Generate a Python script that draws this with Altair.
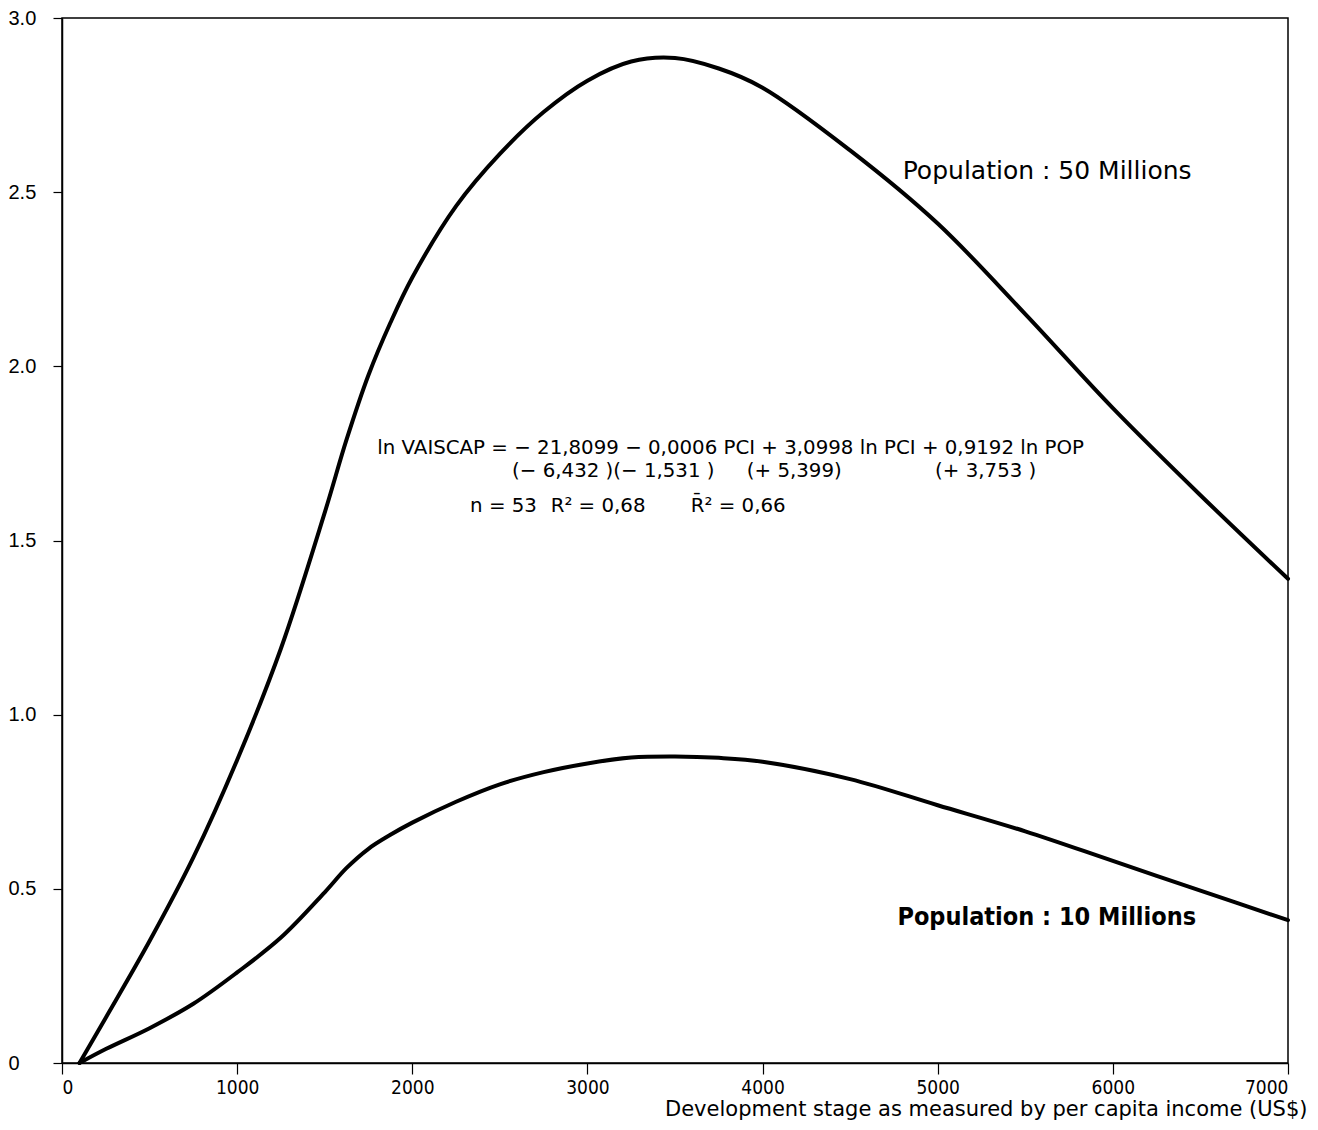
import altair as alt
import pandas as pd

# ---- data ----
income = [100, 250, 500, 750, 1000, 1250, 1500, 1625, 1750, 1875, 2000, 2250, 2500, 2750,
          3000, 3250, 3500, 3750, 4000, 4500, 5000, 5500, 6000, 6500, 7000]
pop50 = [0, 0.13, 0.35, 0.59, 0.87, 1.19, 1.58, 1.79, 1.975, 2.125, 2.255, 2.46, 2.61, 2.73,
         2.82, 2.875, 2.885, 2.855, 2.80, 2.62, 2.41, 2.15, 1.88, 1.63, 1.39]
pop10 = [0, 0.04, 0.10, 0.17, 0.26, 0.36, 0.49, 0.56, 0.615, 0.655, 0.69, 0.75, 0.80, 0.835,
         0.86, 0.877, 0.88, 0.876, 0.865, 0.815, 0.74, 0.665, 0.58, 0.495, 0.41]

x_ticks = [0, 1000, 2000, 3000, 4000, 5000, 6000, 7000]
y_ticks = [0, 0.5, 1.0, 1.5, 2.0, 2.5, 3.0]

label_texts = ["Population : 50 Millions", "Population : 10 Millions"]
label_x = [4800, 4770]
label_y = [2.56, 0.42]

eq_texts = ["ln VAISCAP = \u2212 21,8099 \u2212 0,0006 PCI + 3,0998 ln PCI + 0,9192 ln POP",
            "(\u2212 6,432 )(\u2212 1,531 )", "(+ 5,399)", "(+ 3,753 )",
            "n = 53", "R\u00b2 = 0,68", "R\u0304\u00b2 = 0,66"]
eq_x = [1800, 2570, 3910, 4985, 2330, 2790, 3590]
eq_y = [1.765, 1.70, 1.70, 1.70, 1.60, 1.60, 1.60]

x_title = "Development stage as measured by per capita income (US$)"

# ---- tables ----
curves = pd.DataFrame({
    "income": income * 2,
    "value": pop50 + pop10,
    "series": ["50"] * len(income) + ["10"] * len(income),
})
labels = pd.DataFrame({"text": label_texts, "x": label_x, "y": label_y,
                       "w": ["normal", "bold"]})
eqs = pd.DataFrame({"text": eq_texts, "x": eq_x, "y": eq_y})

xs = alt.Scale(domain=[0, 7000], nice=False, zero=False)
ys = alt.Scale(domain=[0, 3], nice=False)

lines = alt.Chart(curves).mark_line(
    color="black", strokeWidth=4, interpolate="catmull-rom", strokeCap="round"
).encode(
    x=alt.X("income:Q", scale=xs, axis=alt.Axis(
        values=x_ticks, format="d", grid=False, domainColor="black", domainWidth=1.5,
        tickColor="black", tickSize=11, tickWidth=1.2, labelFont="DejaVu Sans Condensed",
        labelFontSize=19, labelColor="black", labelPadding=4,
        title=x_title, titleFont="DejaVu Sans", titleFontSize=21,
        titleFontWeight="normal", titleColor="black", titleAnchor="end",
        titleAlign="right", titleX=1245, titleY=46, titleBaseline="middle")),
    y=alt.Y("value:Q", scale=ys, axis=alt.Axis(
        values=y_ticks, grid=False, domainColor="black", domainWidth=1.5,
        tickColor="black", tickSize=9, tickWidth=1.2, labelFont="Liberation Sans",
        labelFontSize=20, labelColor="black", labelAlign="left", labelPadding=45,
        labelExpr="datum.value == 0 ? '0' : format(datum.value, '.1f')",
        title=None)),
    detail="series:N",
)

lab50 = alt.Chart(labels[labels.w == "normal"]).mark_text(
    align="left", baseline="middle", font="DejaVu Sans", fontSize=25,
    color="black"
).encode(x=alt.X("x:Q", scale=xs), y=alt.Y("y:Q", scale=ys), text="text:N")

lab10 = alt.Chart(labels[labels.w == "bold"]).mark_text(
    align="left", baseline="middle", font="DejaVu Sans Condensed", fontSize=25,
    fontWeight="bold", color="black"
).encode(x=alt.X("x:Q", scale=xs), y=alt.Y("y:Q", scale=ys), text="text:N")

eq = alt.Chart(eqs).mark_text(
    align="left", baseline="middle", font="DejaVu Sans", fontSize=19.8,
    color="black"
).encode(x=alt.X("x:Q", scale=xs), y=alt.Y("y:Q", scale=ys), text="text:N")

chart = alt.layer(lines, lab50, lab10, eq).properties(
    width=1226, height=1045,
    autosize=alt.AutoSizeParams(type="none"),
    padding={"left": 54, "top": 10, "right": 22, "bottom": 59},
).configure(
    background="white",
    view=alt.ViewConfig(stroke="black", strokeWidth=1.5),
)

chart.save("out.html", embed_options={"renderer": "svg", "actions": False})
